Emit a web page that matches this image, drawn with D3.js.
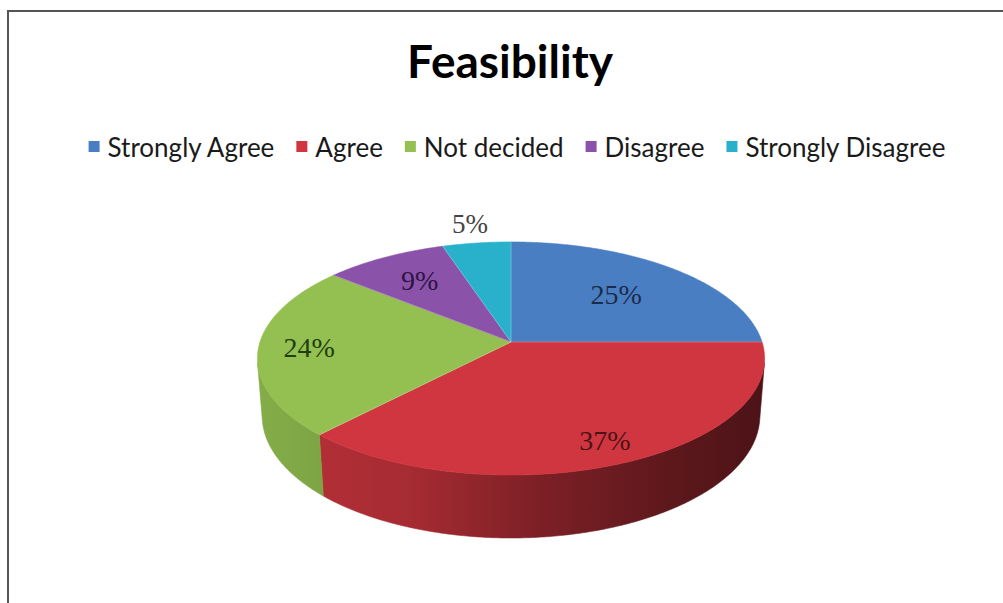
<!DOCTYPE html>
<html><head><meta charset="utf-8">
<script src="https://cdn.jsdelivr.net/npm/d3@7"></script>
<style>body{margin:0;background:#fff}svg{display:block}</style>
</head><body><svg id="c" width="1003" height="603"></svg>
<script>
// ---- data ----
const categories = ["Strongly Agree", "Agree", "Not decided", "Disagree", "Strongly Disagree"];
const values = [25, 37, 24, 9, 5];
const valueLabels = ["25%", "37%", "24%", "9%", "5%"];
const title = "Feasibility";

// ---- style / layout ----
const colors = ["#4a7ec2", "#d0363f", "#93c050", "#8b52aa", "#29b1cc"];
const labelColors = ["#1c2b4a", "#4d1216", "#1f3d0e", "#2d1442", "#444444"];
const labelRadius = [0.63, 0.84, 0.8, 0.7, 1.22];

const svg = d3.select("#c");
const W = 1003, H = 603;

// border
svg.append("path").attr("d", `M8,${H} V11 H${W}`).attr("fill", "none")
  .attr("stroke", "#555").attr("stroke-width", 2);

// title
svg.append("text").attr("x", 510).attr("y", 78).attr("text-anchor", "middle")
  .attr("font-family", "Lato, 'Open Sans', sans-serif").attr("font-weight", "bold")
  .attr("font-size", 46).attr("fill", "#000").text(title);

// legend
const legend = svg.append("g");
const items = legend.selectAll("g").data(categories).join("g");
items.append("rect").attr("width", 11).attr("height", 11).attr("y", 141)
  .attr("fill", (d, i) => colors[i]);
items.append("text").attr("y", 156.5)
  .attr("font-family", "Lato, sans-serif").attr("font-size", 26).attr("fill", "#1a1a1a")
  .text(d => d);
let lx = 0;
const gapSq = 8, gapItem = 22;
items.each(function () {
  const g = d3.select(this);
  const tw = g.select("text").node().getComputedTextLength();
  g.select("rect").attr("x", lx);
  g.select("text").attr("x", lx + 11 + gapSq);
  lx += 11 + gapSq + tw + gapItem;
});
const legendWidth = lx - gapItem;
legend.attr("transform", `translate(${517 - legendWidth / 2},0)`);

// ---- 3D pie projection ----
const cx = 511, cy = 342, F = 1579, D = 6.29;
const sa = 0.455, ca = Math.sqrt(1 - sa * sa);
const T = 0.258;
function proj(r, th, h) {
  const X = r * Math.sin(th), Z = r * Math.cos(th), Y = h;
  const yp = Y * ca + Z * sa;
  const zp = D + Z * ca - Y * sa;
  return [cx + F * X / zp, cy - F * yp / zp];
}
const pie = d3.pie().sort(null).startAngle(0).endAngle(2 * Math.PI)(values);
const line = d3.line();
function arcPts(a0, a1, h) {
  const n = Math.max(2, Math.ceil((a1 - a0) / 0.01));
  return d3.range(n + 1).map(k => proj(1, a0 + (a1 - a0) * k / n, h));
}

// gradients for side walls
const defs = svg.append("defs");
const xL = 255, xR = 770;
function shade(c, f) {
  const q = d3.rgb(c);
  return d3.rgb(q.r * f, q.g * f, q.b * f).formatHex();
}
colors.forEach((c, i) => {
  const g = defs.append("linearGradient").attr("id", "wall" + i)
    .attr("gradientUnits", "userSpaceOnUse")
    .attr("x1", xL).attr("x2", xR).attr("y1", 0).attr("y2", 0);
  [[0, 0.9], [0.3, 0.8], [0.55, 0.6], [0.8, 0.45], [1, 0.36]].forEach(([o, f]) =>
    g.append("stop").attr("offset", o).attr("stop-color", shade(c, f)));
});

// visible wall range
const cLim = -1 / (D * ca);
const th1 = Math.acos(cLim), th2 = 2 * Math.PI - th1;

const walls = svg.append("g");
pie.forEach((p, i) => {
  const a0 = Math.max(p.startAngle, th1), a1 = Math.min(p.endAngle, th2);
  if (a1 <= a0) return;
  const top = arcPts(a0, a1, 0);
  const bot = arcPts(a0, a1, -T).reverse();
  walls.append("path").attr("d", line(top.concat(bot)) + "Z")
    .attr("fill", `url(#wall${i})`).attr("stroke", `url(#wall${i})`).attr("stroke-width", 0.6);
});

const tops = svg.append("g");
pie.forEach((p, i) => {
  const pts = [proj(0, 0, 0)].concat(arcPts(p.startAngle, p.endAngle, 0));
  tops.append("path").attr("d", line(pts) + "Z")
    .attr("fill", colors[i]).attr("stroke", colors[i]).attr("stroke-width", 0.6);
});
// light slice separators
pie.forEach(p => {
  const a = proj(0, 0, 0), b = proj(1, p.startAngle, 0);
  tops.append("line").attr("x1", a[0]).attr("y1", a[1]).attr("x2", b[0]).attr("y2", b[1])
    .attr("stroke", "rgba(255,255,255,0.25)").attr("stroke-width", 1);
});

// labels
pie.forEach((p, i) => {
  const mid = (p.startAngle + p.endAngle) / 2;
  const [x, y] = proj(labelRadius[i], mid, 0);
  svg.append("text").attr("x", x).attr("y", y)
    .attr("text-anchor", "middle").attr("dominant-baseline", "central")
    .attr("font-family", "'Liberation Serif', 'Times New Roman', serif")
    .attr("font-size", i === 4 ? 27 : 28).attr("fill", labelColors[i])
    .text(valueLabels[i]);
});
</script>
</body></html>
